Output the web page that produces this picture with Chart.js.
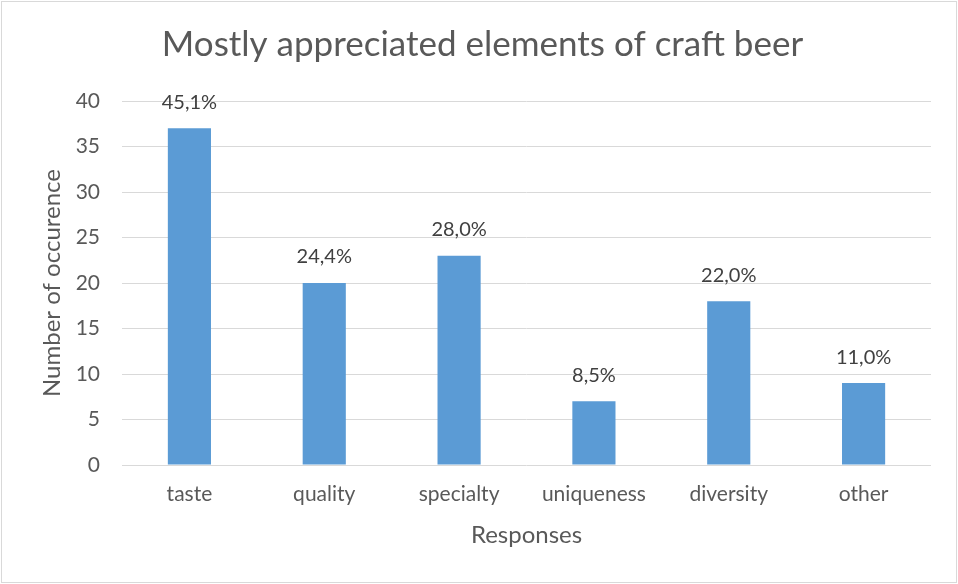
<!DOCTYPE html>
<html>
<head>
<meta charset="utf-8">
<script src="https://cdn.jsdelivr.net/npm/chart.js@4.4.1/dist/chart.umd.min.js"></script>
<style>
  html, body { margin: 0; padding: 0; background: #fff; }
  #wrap { position: relative; width: 958px; height: 584px; }
  #frame { position: absolute; left: 1px; top: 1px; width: 954px; height: 580px; border: 1px solid #d9d9d9; pointer-events: none; }
  canvas { display: block; }
</style>
</head>
<body>
<div id="wrap">
  <canvas id="c" width="958" height="584"></canvas>
  <div id="frame"></div>
</div>
<script>
const categories = ['taste', 'quality', 'specialty', 'uniqueness', 'diversity', 'other'];
const counts = [37, 20, 23, 7, 18, 9];
const percentLabels = ['45,1%', '24,4%', '28,0%', '8,5%', '22,0%', '11,0%'];
const yTicks = [0, 5, 10, 15, 20, 25, 30, 35, 40];

const FONT = 'Lato, "Open Sans", sans-serif';
const GREY = '#595959';

const dataLabels = {
  id: 'dataLabels',
  afterDatasetsDraw(chart) {
    const ctx = chart.ctx;
    const meta = chart.getDatasetMeta(0);
    ctx.save();
    ctx.font = '20px ' + FONT;
    ctx.fillStyle = '#404040';
    ctx.textAlign = 'center';
    ctx.textBaseline = 'middle';
    meta.data.forEach((bar, i) => {
      ctx.fillText(percentLabels[i], bar.x, bar.y - 26);
    });
    ctx.restore();
  }
};

new Chart(document.getElementById('c'), {
  type: 'bar',
  data: {
    labels: categories,
    datasets: [{
      data: counts,
      backgroundColor: '#5b9bd5',
      borderWidth: 0,
      categoryPercentage: 1,
      barPercentage: 0.32
    }]
  },
  options: {
    responsive: false,
    animation: false,
    layout: { padding: { left: 34, right: 27, top: 0, bottom: 24 } },
    plugins: {
      legend: { display: false },
      tooltip: { enabled: false },
      title: {
        display: true,
        text: 'Mostly appreciated elements of craft beer',
        color: GREY,
        font: { family: FONT, size: 35, weight: 'normal' },
        padding: { top: 24, bottom: 35 }
      }
    },
    scales: {
      y: {
        min: 0,
        max: 40,
        afterBuildTicks(scale) { scale.ticks = yTicks.map(v => ({ value: v })); },
        afterFit(scale) { scale.width = 88; },
        ticks: { color: GREY, font: { family: FONT, size: 21 }, padding: 22 },
        grid: { color: '#d9d9d9', drawTicks: false, lineWidth: 1 },
        border: { display: false },
        title: {
          display: true,
          text: 'Number of occurence',
          color: GREY,
          font: { family: FONT, size: 24 },
          padding: { top: 4, bottom: 4 }
        }
      },
      x: {
        afterFit(scale) { scale.height = 95; },
        ticks: { color: GREY, font: { family: FONT, size: 21 }, padding: 17 },
        grid: { display: false, drawTicks: false },
        border: { display: false },
        title: {
          display: true,
          text: 'Responses',
          color: GREY,
          font: { family: FONT, size: 24 },
          padding: { top: 4, bottom: 10 }
        }
      }
    }
  },
  plugins: [dataLabels]
});
</script>
</body>
</html>
